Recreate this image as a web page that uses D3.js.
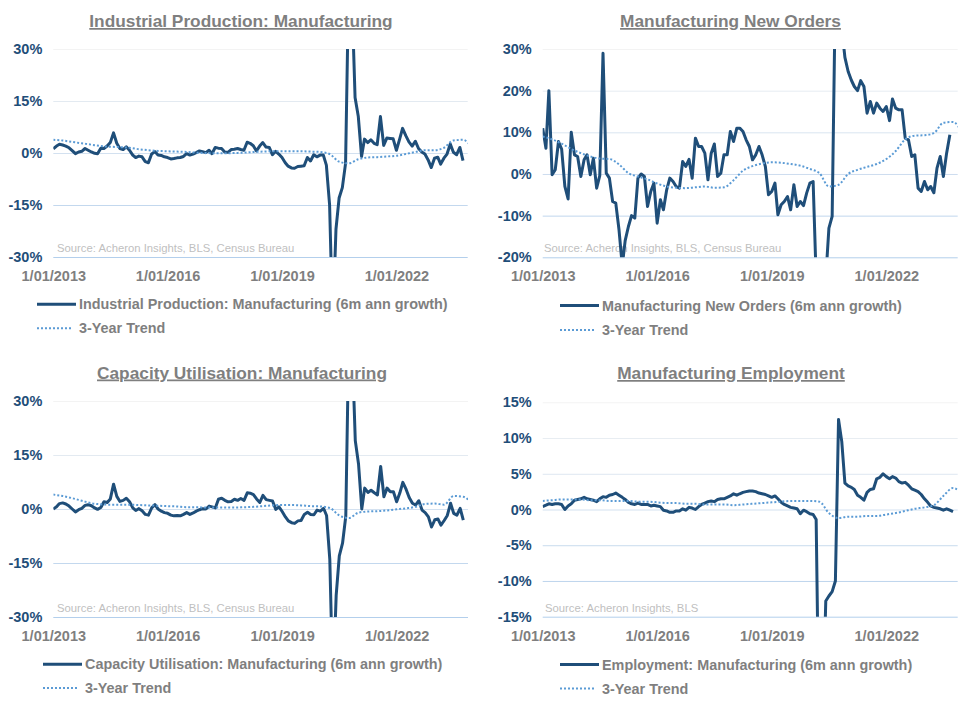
<!DOCTYPE html>
<html><head><meta charset="utf-8">
<script src="https://cdn.jsdelivr.net/npm/d3@7"></script>
<style>
body{margin:0;background:#fff;}
svg{display:block;font-family:"Liberation Sans",Arial,sans-serif;}
</style></head><body>
<svg id="chart" width="973" height="710"></svg>
<script>
// ---------- DATA (monthly from Jan 2013; trends quarterly from Jan 2013) ----------
const ipValues = [1.2, 2.0, 2.5, 2.3, 2.0, 1.5, 0.7, -0.2, 0.3, 0.5,
 1.3, 0.8, 0.3, -0.1, -0.2, 1.4, 1.3, 2.0, 3.0, 5.8,
 2.8, 1.3, 1.0, 1.8, 0.8, -0.6, -1.3, -0.9, -1.1, -2.5,
 -2.8, -0.3, 0.4, -0.6, -0.7, -1.1, -1.3, -1.7, -1.6, -1.4,
 -1.3, -1.0, -0.2, -0.6, -0.3, 0.1, 0.6, 0.4, 0.1, 0.8,
 -0.2, 1.6, 1.4, 1.3, 0.3, 0.2, 1.0, 1.1, 1.3, 1.0,
 0.8, 3.1, 2.8, 2.1, 0.6, 2.0, 3.0, 1.7, 1.6, -0.5,
 0.5, -0.3, -1.3, -2.8, -3.8, -4.3, -4.4, -3.9, -3.8, -3.7,
 -1.3, -2.3, -0.5, -1.1, -0.6, -0.6, -3.5, -15, -50, -22,
 -13, -10, -3, 50, 45, 16, 10.5, -1.0, 4.0, 3.0,
 3.8, 2.8, 2.4, 10.5, 2.2, 4.3, 4.2, 4.1, 0.8, 4.0,
 7.1, 5.0, 3.2, 2.0, 3.4, 1.3, 0.3, -0.3, -2.0, -4.2,
 -1.5, -1.2, -3.2, -1.5, -0.3, 2.6, 0.2, -0.5, 1.6, -2.2];

const noValues = [11, 6.2, 20, -0.2, 1, 7.8, 6, -3, -6, 10,
 4.6, 4.2, -0.6, 3.4, 4.6, -0.2, 3.8, -3.4, -0.4, 29,
 0.2, -1, -6.6, -7, -13.4, -22, -16, -12.6, -10, -10.6,
 -1, 0, -0.6, -7.8, -4.2, -2.2, -11.8, -6.2, -8.6, -3.8,
 -1, -1.8, -3, -3.4, 3, 1.8, 3.5, -1, 8.6, 6.6,
 6.6, 5, -1.4, 5, 7.2, -0.6, 0.2, 4.6, 4.6, 10.2,
 7.8, 11, 11, 10.2, 8.2, 6.6, 3.4, 4.6, 6.6, 4.6,
 1.8, -5, -4.2, -2.2, -9.8, -7.4, -6.6, -5.4, -8.6, -2.6,
 -7.8, -6.6, -7.6, -4.6, -2.2, -1.8, -25, -45, -40, -25,
 -13, -10.2, 45, 50, 35, 28, 24.6, 22.5, 21, 20,
 22.4, 21, 14.6, 17.4, 14.6, 17, 15.8, 15, 16.2, 12.8,
 18, 15.8, 15.4, 15.4, 8.6, 8.2, 4.2, 4.6, -3.4, -4.2,
 -1.8, -3.8, -3, -4.5, 1.4, 4.2, -0.6, 5, 9.4];

const cuValues = [0, 0.6, 1.5, 1.7, 1.4, 0.8, 0, -0.8, -0.2, 0.2,
 1.0, 1.2, 0.9, 0.3, -0.1, 0.4, 2.0, 1.8, 2.8, 6.9,
 3.5, 2.1, 2.4, 3.0, 2.0, 0.3, -0.4, 0.1, -0.5, -1.5,
 -1.7, 0.3, 1.2, 0.0, -0.6, -1.0, -1.2, -1.7, -1.9, -1.8,
 -1.9, -1.5, -1.0, -1.5, -1.1, -0.6, -0.2, 0.1, 0.0, 0.8,
 0.6, 0.3, 2.7, 3.0, 2.4, 2.0, 2.1, 2.7, 2.4, 2.9,
 2.4, 4.5, 4.4, 4.0, 2.8, 1.8, 3.8, 2.6, 2.4, 2.2,
 -0.1, 0.6, -0.7, -2.2, -3.3, -3.8, -4.0, -3.3, -3.2, -1.5,
 -0.9, -1.5, -1.6, -0.3, -0.6, 0.2, -1.8, -14, -50, -24,
 -13, -9.5, -2, 50, 45, 19, 12.5, 0.0, 5.8, 4.6,
 5.2, 4.5, 3.9, 11.8, 3.4, 5.8, 4.8, 4.8, 2.0, 4.5,
 7.4, 5.5, 3.2, 1.6, 1.1, 2.3, -0.3, -1.0, -2.2, -5.0,
 -3.0, -2.8, -4.5, -3.2, -1.8, 1.6, -1.2, -1.7, 0.2, -3.1];

const empValues = [0.4, 0.6, 0.8, 0.7, 0.8, 0.8, 0.7, 0.0, 0.5, 0.8,
 1.3, 1.4, 1.5, 1.7, 1.5, 1.4, 1.3, 1.1, 1.5, 1.8,
 1.7, 2.0, 2.1, 2.3, 2.0, 1.7, 1.4, 1.0, 0.8, 0.7,
 0.9, 0.7, 0.7, 0.7, 0.5, 0.6, 0.5, 0.4, -0.1, -0.2,
 -0.4, -0.4, -0.2, -0.2, 0.1, -0.1, 0.3, 0.2, 0.0, 0.4,
 0.7, 0.9, 1.1, 1.2, 1.1, 1.4, 1.5, 1.5, 1.7, 1.9,
 2.2, 2.0, 2.2, 2.4, 2.5, 2.6, 2.6, 2.5, 2.3, 2.2,
 2.1, 1.9, 1.7, 1.9, 1.5, 1.0, 0.7, 0.5, 0.3, 0.2,
 0.1, -0.6, -0.1, -0.3, -0.6, -0.7, -1.4, -35, -30, -12.8,
 -12.1, -11.5, -10, 12.6, 9.5, 3.7, 3.3, 3.1, 2.8, 2.0,
 1.7, 1.3, 2.4, 2.8, 2.9, 4.3, 4.5, 5.0, 4.6, 4.3,
 4.6, 4.4, 3.9, 3.7, 3.8, 3.4, 2.9, 2.7, 2.5, 2.1,
 1.5, 1.0, 0.5, 0.3, 0.2, 0.1, -0.1, 0.1, -0.1, -0.3];

const ipTrend = [3.8, 3.6, 3.2, 2.8, 2.4, 2.0, 1.8, 1.7, 1.5, 1.1, 0.8, 0.6, 0.5, 0.4, 0.3,
 0.1, 0.0, -0.1, -0.1, 0.0, 0.1, 0.3, 0.4, 0.5, 0.5, 0.5, 0.5, 0.4, 0.3, -0.3,
 -2.5, -3.0, -1.8, -1.3, -1.2, -1.0, -0.8, -0.3, 0.3, 0.8, 0.8, 1.5, 3.6, 3.8, 1.2];
const noTrend = [9.0, 8.3, 7.3, 6.0, 5.0, 4.2, 3.7, 3.6, 2.3, 0.2, -0.6, -1.3, -2.3, -3.0, -3.3,
 -3.4, -3.2, -3.0, -3.3, -3.2, -1.5, 0.8, 1.9, 2.5, 2.8, 2.7, 2.4, 2.0, 1.2, 0.2,
 -3.0, -2.6, 0.0, 1.0, 1.7, 2.4, 3.6, 5.5, 8.3, 9.2, 9.3, 9.8, 12.3, 12.5, 9.5];
const cuTrend = [4.0, 3.6, 3.0, 2.3, 1.6, 1.3, 1.2, 1.2, 1.2, 1.1, 1.0, 0.9, 0.8, 0.7, 0.5,
 0.5, 0.4, 0.4, 0.4, 0.4, 0.5, 0.6, 0.8, 1.0, 1.1, 1.1, 1.0, 0.8, 0.7, 0.3,
 -1.8, -2.5, -1.0, -0.7, -0.6, -0.4, -0.1, 0.2, 0.6, 1.4, 1.5, 1.2, 3.6, 3.4, 1.0];
const empTrend = [1.2, 1.3, 1.4, 1.4, 1.4, 1.3, 1.3, 1.2, 1.2, 1.2, 1.1, 1.1, 1.0, 0.9, 0.9,
 0.8, 0.8, 0.7, 0.7, 0.7, 0.6, 0.7, 0.8, 0.9, 1.0, 1.1, 1.2, 1.2, 1.2, 1.1,
 -0.5, -1.2, -1.0, -1.0, -0.9, -0.9, -0.7, -0.5, -0.2, 0.1, 0.3, 0.6, 1.9, 3.0, 2.2];

const tickLabels = ["1/01/2013", "1/01/2016", "1/01/2019", "1/01/2022"];
const tickYears = [2013, 2016, 2019, 2022];
const titles = ["Industrial Production: Manufacturing", "Manufacturing New Orders",
  "Capacity Utilisation: Manufacturing", "Manufacturing Employment"];
const legendLabels = ["Industrial Production: Manufacturing (6m ann growth)",
  "Manufacturing New Orders (6m ann growth)",
  "Capacity Utilisation: Manufacturing (6m ann growth)",
  "Employment: Manufacturing (6m ann growth)"];
const trendLabel = "3-Year Trend";
const sources = ["Source: Acheron Insights, BLS, Census Bureau", "Source: Acheron Insights, BLS, Census Bureau",
  "Source: Acheron Insights, BLS, Census Bureau", "Source: Acheron Insights, BLS"];
const yTickSets = [[-30, -15, 0, 15, 30], [-20, -10, 0, 10, 20, 30], [-30, -15, 0, 15, 30], [-15, -10, -5, 0, 5, 10, 15]];
const seriesValues = [ipValues, noValues, cuValues, empValues];
const trendValues = [ipTrend, noTrend, cuTrend, empTrend];

// ---------- LAYOUT ----------
const layout = [
  {x0: 53.3, x1: 467.7, y0: 49, y1: 257, tx: 241, ty: 27, lx: 37, ly: 304.3, ty2: 328.3, sx: 57, sy: 252},
  {x0: 542.7, x1: 957.7, y0: 49, y1: 257.3, tx: 730.5, ty: 27, lx: 560, ly: 305.5, ty2: 330, sx: 544, sy: 252},
  {x0: 53.3, x1: 468, y0: 401, y1: 617, tx: 242, ty: 378.5, lx: 43, ly: 664.3, ty2: 688, sx: 57, sy: 612},
  {x0: 542.7, x1: 957.7, y0: 402.3, y1: 616.7, tx: 731, ty: 379, lx: 560, ly: 664.5, ty2: 688.5, sx: 545, sy: 612}
];

const mainColor = "#1f4e79", trendColor = "#5b9bd5", labelGray = "#7f7f7f";
const start = new Date(2013, 0, 1), end = new Date(2023, 10, 15);
const svg = d3.select("#chart");
const gridColor = d3.interpolateRgb("#f3f3f3", "#b3cfec");

layout.forEach((L, pi) => {
  const g = svg.append("g");
  const x = d3.scaleTime().domain([start, end]).range([L.x0, L.x1]);
  const ticks = yTickSets[pi];
  const y = d3.scaleLinear().domain([ticks[0], ticks[ticks.length - 1]]).range([L.y1, L.y0]);

  // y axis with gridlines
  const ya = g.append("g").attr("transform", `translate(${L.x0},0)`)
    .call(d3.axisLeft(y).tickValues(ticks).tickSize(-(L.x1 - L.x0)).tickPadding(11).tickFormat(d => d + "%"));
  ya.select(".domain").remove();
  ya.selectAll(".tick line").attr("stroke", d => gridColor((ticks[ticks.length - 1] - d) / (ticks[ticks.length - 1] - ticks[0]))).attr("stroke-width", 1);
  ya.selectAll(".tick text").attr("fill", mainColor).style("font-family", "'Liberation Sans', Arial, sans-serif")
    .style("font-size", "14.5px").style("font-weight", "bold");

  // x axis labels
  const tickDates = tickYears.map(yr => new Date(yr, 0, 1));
  const xa = g.append("g").attr("transform", `translate(0,${L.y1})`)
    .call(d3.axisBottom(x).tickValues(tickDates).tickSize(0).tickPadding(13.7).tickFormat((d, i) => tickLabels[i]));
  xa.select(".domain").remove();
  xa.selectAll(".tick text").attr("fill", labelGray).style("font-family", "'Liberation Sans', Arial, sans-serif")
    .style("font-size", "14.5px").style("font-weight", "bold");

  // source
  g.append("text").attr("x", L.sx).attr("y", L.sy).attr("fill", "#bfbfbf")
    .style("font-size", "11.3px").text(sources[pi]);

  // clip
  const cid = "clip" + pi;
  svg.append("clipPath").attr("id", cid).append("rect")
    .attr("x", L.x0).attr("y", L.y0).attr("width", L.x1 - L.x0).attr("height", L.y1 - L.y0);

  const mainData = seriesValues[pi].map((v, i) => ({d: d3.timeMonth.offset(start, i), v}));
  const trendData = trendValues[pi].map((v, i) => ({d: d3.timeMonth.offset(start, i * 3), v}));
  const line = d3.line().x(p => x(p.d)).y(p => y(p.v));
  const trendLine = d3.line().x(p => x(p.d)).y(p => y(p.v)).curve(d3.curveMonotoneX);

  const plot = g.append("g").attr("clip-path", `url(#${cid})`);
  plot.append("path").datum(mainData).attr("d", line).attr("fill", "none")
    .attr("stroke", mainColor).attr("stroke-width", 3).attr("stroke-linejoin", "round");
  plot.append("path").datum(trendData).attr("d", trendLine).attr("fill", "none")
    .attr("stroke", trendColor).attr("stroke-width", 2).attr("stroke-dasharray", "2,2");

  // title
  g.append("text").attr("x", L.tx).attr("y", L.ty).attr("text-anchor", "middle")
    .attr("fill", labelGray).style("font-size", "17.3px").style("font-weight", "bold")
    .style("text-decoration", "underline").text(titles[pi]);

  // legend
  g.append("line").attr("x1", L.lx).attr("x2", L.lx + 39).attr("y1", L.ly).attr("y2", L.ly)
    .attr("stroke", mainColor).attr("stroke-width", 3);
  g.append("text").attr("x", L.lx + 42).attr("y", L.ly).attr("dy", "0.35em").attr("fill", labelGray)
    .style("font-size", "14.4px").style("font-weight", "bold").text(legendLabels[pi]);
  g.append("line").attr("x1", L.lx).attr("x2", L.lx + 36).attr("y1", L.ty2).attr("y2", L.ty2)
    .attr("stroke", trendColor).attr("stroke-width", 2).attr("stroke-dasharray", "2,2");
  g.append("text").attr("x", L.lx + 42).attr("y", L.ty2).attr("dy", "0.35em").attr("fill", labelGray)
    .style("font-size", "14.4px").style("font-weight", "bold").text(trendLabel);
});
</script>
</body></html>
